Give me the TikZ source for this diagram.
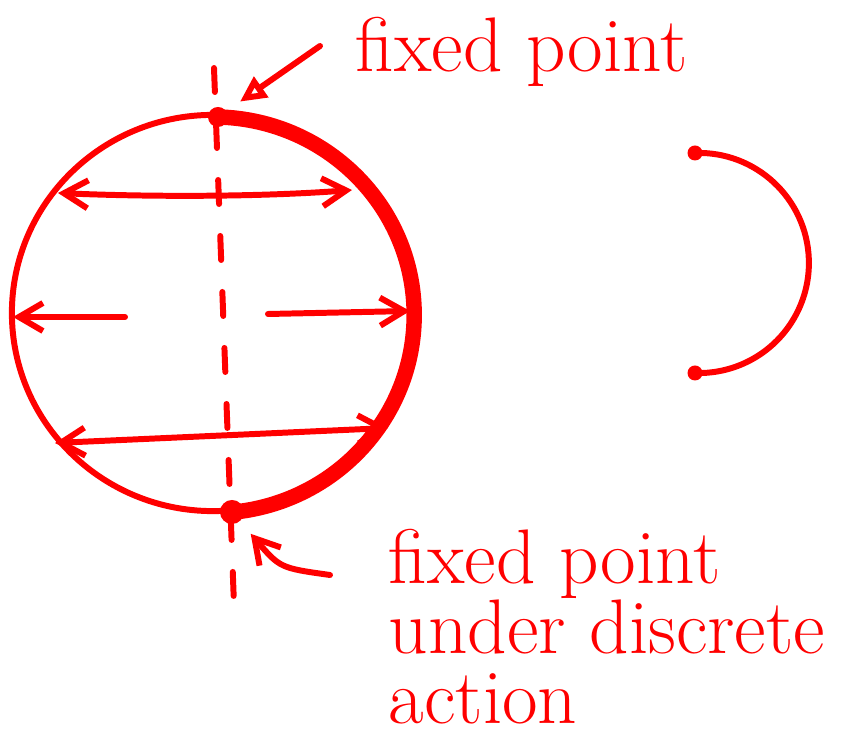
\documentclass[tikz,border=0pt]{standalone}
\usepackage{tikz}
\usetikzlibrary{arrows.meta,positioning,calc}
\begin{document}
\begin{tikzpicture}[x=0.01cm,y=-0.01cm,line cap=round,line join=round,
  font=\fontsize{22}{20}\selectfont\rmfamily,
  pen/.style={red,line width=1.7pt},
  heavy/.style={red,line width=4.4pt},
  dotbig/.style={circle,fill=red,inner sep=0pt,minimum size=0.22cm},
  dotsmall/.style={circle,fill=red,inner sep=0pt,minimum size=0.15cm},
  flow/.style={pen,{Straight Barb[length=2.4mm,width=2.8mm]}-{Straight Barb[length=2.4mm,width=2.8mm]}},
  flowone/.style={pen,-{Straight Barb[length=2.4mm,width=2.8mm]}},
  lbl/.style={text=red,inner sep=0pt,align=left},
]
\useasboundingbox (0,0) rectangle (854,740);

\def\RX{2.01cm}
\def\RY{1.98cm}
\coordinate (C) at (213,313);

% sphere, axis and the two fixed points
\draw[pen] (C) circle[x radius=\RX,y radius=\RY];
\coordinate (axtop) at (214,68);
\coordinate (axbot) at (234,605);
\draw[pen,dash pattern=on 0.24cm off 0.32cm] (axtop) -- (axbot);
\node[dotbig,minimum size=0.2cm] (top) at (218,117) {};
\node[dotbig,minimum size=0.24cm] (bot) at (232,512) {};
\draw[heavy] (top.center) arc[start angle=88.6,end angle=-84.6,x radius=\RX,y radius=\RY];

% rotation arrows
\coordinate (r1l) at (58,193);
\coordinate (r1r) at (352,190);
\draw[flow] (r1l) .. controls (150,197) and (260,197) .. (r1r);
\coordinate (r2s) at (125,317);
\coordinate (r2l) at (13,317);
\draw[flowone] (r2s) -- (r2l);
\coordinate (r3s) at (268,314);
\coordinate (r3r) at (410,311);
\draw[flowone] (r3s) -- (r3r);
\coordinate (r4l) at (55,443);
\coordinate (r4r) at (388,428);
\draw[flow] (r4l) -- (r4r);

% quotient arc
\node[dotsmall] (qtop) at (695,153) {};
\node[dotsmall] (qbot) at (695,373) {};
\draw[pen] (qtop.center) arc[start angle=92,end angle=-92,radius=1.1cm];

% labels
\node[lbl,anchor=west] (fptop) at (355,52) {fixed point};
\node[lbl,anchor=north west] (fpbot) at (388,528) {fixed point\\under discrete\\action};
\coordinate (tailtop) at (320,46);
\coordinate (tailbot) at (330,575);
\draw[pen,-{Triangle[open,length=2.6mm,width=2.4mm]},shorten >=1.6mm] (tailtop) -- (top);
\draw[pen,-{Straight Barb[length=2.4mm,width=2.8mm]},shorten >=1.6mm] (tailbot) .. controls (280,568) .. (bot);

\end{tikzpicture}
\end{document}
